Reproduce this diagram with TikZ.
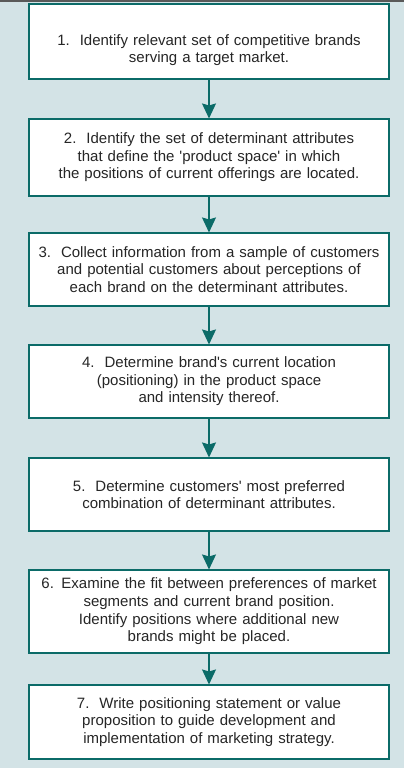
\documentclass[tikz,border=0pt]{standalone}
\usepackage{fontspec}
\setmainfont{Liberation Sans}
\usetikzlibrary{arrows.meta}
\definecolor{bgblue}{HTML}{D3E3E6}
\definecolor{teal}{HTML}{0B6B68}
\definecolor{txtgray}{HTML}{262626}
\begin{document}
\begin{tikzpicture}[x=1pt,y=1pt,
    stepbox/.style={draw=teal,line width=1.1pt,fill=white,minimum width=360pt,
      text width=358pt,align=center,inner sep=0pt,text=txtgray,
      font=\fontsize{15pt}{17.6pt}\selectfont},
    flow/.style={draw=teal,line width=1.1pt,-{Stealth[length=15pt,width=14pt,inset=2pt,fill=teal]}}]
    \fill[bgblue] (0,0) rectangle (404,-768);
    \fill[black!65] (0,0) rectangle (404,-2);
    \useasboundingbox (0,0) rectangle (404,-768);
    \node[stepbox,minimum height=75pt] (s1) at (209,-41.5) {\rule{0pt}{28pt}1.\ \ Identify relevant set of competitive brands\\ serving a target market.};
    \node[stepbox,minimum height=77pt] (s2) at (209,-157.5) {2.\ \ Identify the set of determinant attributes\\ that define the \textquotesingle product space\textquotesingle\ in which\\ the positions of current offerings are located.};
    \node[stepbox,minimum height=73pt] (s3) at (209,-269.5) {3.\ \ Collect information from a sample of customers\\ and potential customers about perceptions of\\ each brand on the determinant attributes.};
    \node[stepbox,minimum height=73pt] (s4) at (209,-381.5) {4.\ \ Determine brand\textquotesingle s current location\\ (positioning) in the product space\\ and intensity thereof.};
    \node[stepbox,minimum height=73pt] (s5) at (209,-494.5) {5.\ \ Determine customers\textquotesingle\ most preferred\\ combination of determinant attributes.};
    \node[stepbox,minimum height=83pt] (s6) at (209,-611.5) {6. Examine the fit between preferences of market\\ segments and current brand position.\\ Identify positions where additional new\\ brands might be placed.};
    \node[stepbox,minimum height=74pt] (s7) at (209,-722) {7.\ \ Write positioning statement or value\\ proposition to guide development and\\ implementation of marketing strategy.};
    \foreach \a/\b in {s1/s2,s2/s3,s3/s4,s4/s5,s5/s6,s6/s7}
        \draw[flow] (\a) -- (\b);
\end{tikzpicture}
\end{document}
